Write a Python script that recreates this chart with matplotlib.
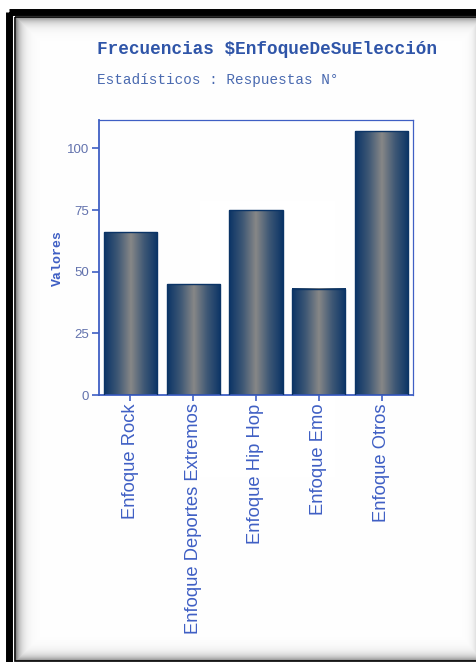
import matplotlib
matplotlib.use("Agg")

import numpy as np
import matplotlib.pyplot as plt
import matplotlib.patches as patches
from matplotlib.colors import LinearSegmentedColormap

# --- Data ---
CATEGORIES = [
    "Enfoque Rock", "Enfoque Deportes Extremos", "Enfoque Hip Hop",
    "Enfoque Emo", "Enfoque Otros",
]
VALUES = [66, 45, 75, 43, 107]
Y_TICKS = [0, 25, 50, 75, 100]

TITLE = "Frecuencias $EnfoqueDeSuElección"
SUBTITLE = "Estadísticos : Respuestas N°"
Y_LABEL = "Valores"

# --- Style ---
W, H, DPI = 476, 662, 100
BLUE = "#3f5fc4"
TITLE_BLUE = "#2f55a8"
SUB_BLUE = "#4a6ab0"
NAVY = "#0b3466"

bar_cmap = LinearSegmentedColormap.from_list(
    "bar", [NAVY, "#3d5775", "#878787", "#3d5775", NAVY])

fig = plt.figure(figsize=(W / DPI, H / DPI), dpi=DPI)
fig.patch.set_facecolor("white")

# --- Page frame with soft inner shadow ---
bg = fig.add_axes([0, 0, 1, 1])
bg.axis("off")

xx, yy = np.meshgrid(np.arange(W) + 0.5, np.arange(H) + 0.5)
x0, y0, y1 = 16, 17, 661
d_lt = np.minimum.reduce([xx - x0, yy - y0, y1 - yy])
shade = 0.5 * np.exp(-np.clip(d_lt, 0, None) / 5.0)
shade = np.maximum(shade, 0.12 * np.exp(-np.clip(W - xx, 0, None) / 4.0))
rgba = np.ones((H, W, 4))
rgba[..., :3] = 1 - shade[..., None]
inside = (xx >= x0) & (yy >= y0) & (yy <= y1)
rgba[~inside] = [1, 1, 1, 1]
bg.imshow(rgba, extent=(0, W, H, 0), interpolation="bilinear", zorder=0)

bg.add_patch(patches.Rectangle((9, 12), W + 20, H + 20, fill=False,
                               edgecolor="black", linewidth=5, zorder=2))
bg.add_patch(patches.Rectangle((15, 16.5), W + 20, 644.5, fill=False,
                               edgecolor="black", linewidth=1.2, zorder=2))
bg.set_xlim(0, W)
bg.set_ylim(H, 0)

# --- Titles ---
fig.text(97 / W, 1 - 49 / H, TITLE, family="Liberation Mono", fontweight="bold",
         fontsize=12.8, color=TITLE_BLUE, va="center", ha="left")
fig.text(97 / W, 1 - 80 / H, SUBTITLE, family="Liberation Mono",
         fontsize=10.4, color=SUB_BLUE, va="center", ha="left")

# --- Bar chart ---
ax = fig.add_axes([99 / W, 1 - 395 / H, 314 / W, 275 / H])
ax.set_facecolor("none")

x = np.arange(len(CATEGORIES))
bar_w = 0.85
grad = np.linspace(0, 1, 256)[None, :]
for xi, v in zip(x, VALUES):
    ax.imshow(grad, cmap=bar_cmap, aspect="auto", interpolation="bilinear",
              extent=(xi - bar_w / 2, xi + bar_w / 2, 0, v), zorder=2)
ax.bar(x, VALUES, width=bar_w, facecolor="none", edgecolor=NAVY,
       linewidth=1.0, zorder=3)

ax.set_xlim(-0.5, len(CATEGORIES) - 0.5)
ax.set_ylim(0, 111.5)
ax.set_yticks(Y_TICKS)
ax.set_xticks(x)
ax.set_xticklabels(CATEGORIES, rotation=90, family="Liberation Sans",
                   fontsize=13.2, color=BLUE)
ax.set_yticklabels([str(t) for t in Y_TICKS], family="Liberation Sans",
                   fontsize=9.5, color="#6272ad")
ax.tick_params(axis="y", length=5, width=1.2, color=BLUE, pad=2)
ax.tick_params(axis="x", length=4, width=1.2, color=BLUE, pad=2)
for s in ax.spines.values():
    s.set_color(BLUE)
    s.set_linewidth(0.9)
ax.spines["left"].set_linewidth(1.3)
ax.spines["bottom"].set_linewidth(1.3)

ax.set_ylabel(Y_LABEL, family="Liberation Mono", fontweight="bold",
              fontsize=9.5, color=BLUE, labelpad=2)

fig.savefig("out.png", dpi=DPI)
